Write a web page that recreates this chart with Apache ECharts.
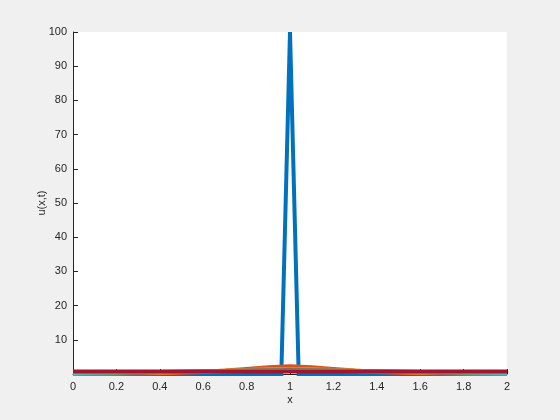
<!DOCTYPE html>
<html><head><meta charset="utf-8">
<script src="https://cdn.jsdelivr.net/npm/echarts@6/dist/echarts.min.js"></script>
<style>html,body{margin:0;padding:0;background:#f0f0f0;}#c{width:560px;height:420px;}</style>
</head><body><div id="c"></div>
<script>
// Initial spike (t = 0)
const spikeX = [0, 0.96, 1.0, 1.04, 2.0];
const spikeU = [0, 0, 100, 0, 0];
// Later time steps on grid x = 0:0.1:2
const gridX = [0,0.1,0.2,0.3,0.4,0.5,0.6,0.7,0.8,0.9,1.0,1.1,1.2,1.3,1.4,1.5,1.6,1.7,1.8,1.9,2.0];
const u2 = [0.05,0.08,0.12,0.15,0.2,0.35,0.6,1.0,1.5,2.0,2.3,2.0,1.5,1.0,0.6,0.35,0.2,0.15,0.12,0.08,0.05];
const u3 = [0.1,0.15,0.2,0.3,0.4,0.55,0.75,0.95,1.15,1.3,1.35,1.3,1.15,0.95,0.75,0.55,0.4,0.3,0.2,0.15,0.1];
const u4 = [0.2,0.25,0.3,0.4,0.5,0.6,0.75,0.9,1.0,1.1,1.15,1.1,1.0,0.9,0.75,0.6,0.5,0.4,0.3,0.25,0.2];
const u5 = [0.3,0.35,0.4,0.5,0.55,0.65,0.75,0.85,0.95,1.0,1.0,1.0,0.95,0.85,0.75,0.65,0.55,0.5,0.4,0.35,0.3];
const u6 = [0.4,0.45,0.5,0.55,0.6,0.7,0.75,0.8,0.85,0.9,0.9,0.9,0.85,0.8,0.75,0.7,0.6,0.55,0.5,0.45,0.4];
const u7 = [0.75,0.75,0.75,0.75,0.75,0.75,0.75,0.75,0.75,0.75,0.75,0.75,0.75,0.75,0.75,0.75,0.75,0.75,0.75,0.75,0.75];
const xTicks = [0,0.2,0.4,0.6,0.8,1,1.2,1.4,1.6,1.8,2];
const yTicks = [10,20,30,40,50,60,70,80,90,100];

const colors = ['#0072BD','#D95319','#EDB120','#7E2F8E','#77AC30','#4DBEEE','#A2142F'];
const curves = [u2,u3,u4,u5,u6,u7];
const pair = (xs, ys) => xs.map((x,i)=>[x, ys[i]]);
const series = [{type:'line', data: pair(spikeX, spikeU), showSymbol:false, clip:false,
  lineStyle:{width:4,color:colors[0],join:'miter'}, z:2}];
curves.forEach((c,k)=>series.push({type:'line', data: pair(gridX,c), showSymbol:false, smooth:false,
  lineStyle:{width:4,color:colors[k+1]}, z:3+k}));

const font = '"Liberation Sans", Arial, Helvetica, sans-serif';
const chart = echarts.init(document.getElementById('c'));
chart.setOption({
  backgroundColor:'#f0f0f0',
  animation:false,
  color: colors,
  grid:{left:73, right:53, top:32, bottom:46, show:true, backgroundColor:'#ffffff', borderWidth:0},
  xAxis:{type:'value', min:0, max:2, interval:0.2, name:'x', nameLocation:'middle', nameGap:20, nameMoveOverlap:false,
    nameTextStyle:{color:'#262626', fontSize:11, fontFamily:font},
    axisLine:{lineStyle:{color:'#262626', width:1}},
    axisTick:{inside:true, length:5, lineStyle:{color:'#262626'}},
    axisLabel:{color:'#262626', fontSize:11, fontFamily:font, margin:7,
      formatter:v=>{const t=xTicks.find(a=>Math.abs(a-v)<1e-9);return t===undefined?'':String(t);}},
    splitLine:{show:false}},
  yAxis:{type:'value', min:0, max:100, interval:10, name:'u(x,t)', nameLocation:'middle', nameGap:26, nameMoveOverlap:false,
    nameTextStyle:{color:'#262626', fontSize:11, fontFamily:font},
    axisLine:{show:true, lineStyle:{color:'#262626', width:1}},
    axisTick:{inside:true, length:5, lineStyle:{color:'#262626'}},
    axisLabel:{color:'#262626', fontSize:11, fontFamily:font, margin:6,
      formatter:v=>yTicks.includes(Math.round(v))?String(Math.round(v)):''},
    splitLine:{show:false}},
  series: series
});
</script></body></html>
